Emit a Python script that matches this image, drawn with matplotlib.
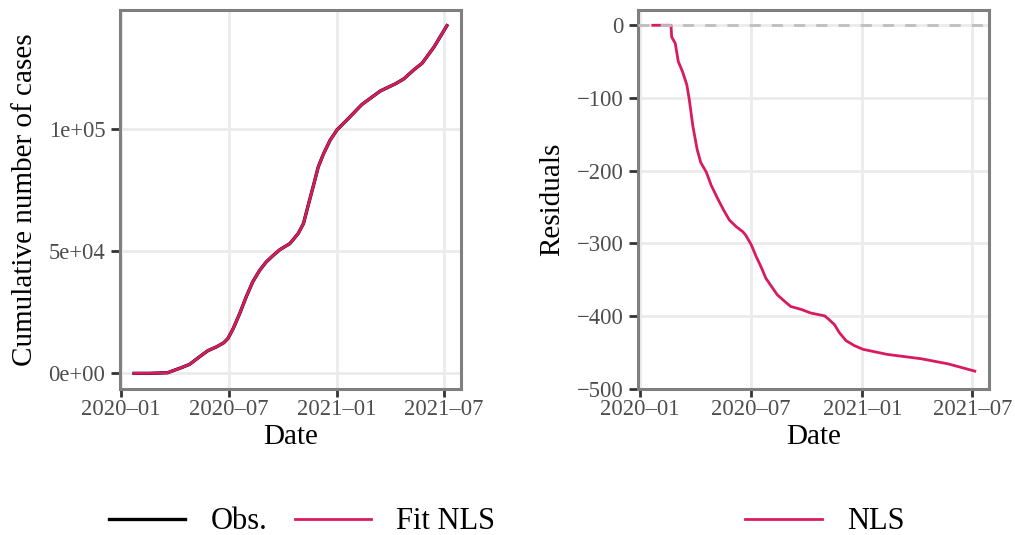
import matplotlib
matplotlib.use("Agg")
import matplotlib.pyplot as plt
import matplotlib.dates as mdates
from matplotlib.ticker import FixedLocator, FuncFormatter
import pandas as pd

# ---------------- data ----------------
obs_dates = ["2020-01-23", "2020-02-18", "2020-03-20", "2020-03-29", "2020-04-12",
             "2020-04-26", "2020-05-13", "2020-05-27", "2020-06-11", "2020-06-23",
             "2020-06-30", "2020-07-09", "2020-07-20", "2020-07-31", "2020-08-11",
             "2020-08-23", "2020-09-03", "2020-09-15", "2020-09-26", "2020-10-13",
             "2020-10-27", "2020-11-05", "2020-11-13", "2020-11-22", "2020-11-30",
             "2020-12-09", "2020-12-20", "2021-01-01", "2021-01-17", "2021-02-12",
             "2021-03-15", "2021-04-10", "2021-04-24", "2021-05-11", "2021-05-25",
             "2021-06-14", "2021-07-06"]
obs_values = [0, 0, 270, 1090, 2320,
              3680, 6820, 9280, 10900, 12550,
              14300, 18400, 24550, 31370, 37500,
              42300, 45700, 48400, 50700, 53200,
              57300, 61400, 68900, 77100, 84600,
              90000, 95500, 99850, 103700, 110200,
              115700, 118700, 120700, 124400, 127100,
              133700, 142500]
fit_values = [0, 0, 270, 1090, 2320,
              3680, 6820, 9280, 10900, 12550,
              14300, 18400, 24550, 31370, 37500,
              42300, 45700, 48400, 50700, 53200,
              57300, 61400, 68900, 77100, 84600,
              90000, 95500, 99850, 103700, 110200,
              115700, 118700, 120700, 124400, 127100,
              133700, 142500]

resid_dates = ["2020-01-22", "2020-02-21", "2020-02-22", "2020-02-28", "2020-03-04",
               "2020-03-11", "2020-03-18", "2020-03-22", "2020-03-28", "2020-04-04",
               "2020-04-10", "2020-04-19", "2020-04-27", "2020-05-08", "2020-05-18",
               "2020-05-27", "2020-06-07", "2020-06-18", "2020-06-23", "2020-07-02",
               "2020-07-10", "2020-07-19", "2020-07-26", "2020-08-04", "2020-08-14",
               "2020-08-26", "2020-09-05", "2020-09-22", "2020-10-08", "2020-10-31",
               "2020-11-07", "2020-11-16", "2020-11-24", "2020-12-05", "2020-12-19",
               "2021-01-02", "2021-02-11", "2021-04-08", "2021-05-22", "2021-07-05"]
resid_values = [0, 0, -16, -25, -50,
                -64, -82, -102, -139, -171,
                -189, -202, -220, -239, -255,
                -268, -277, -284, -289, -302,
                -318, -334, -348, -359, -371,
                -380, -387, -391, -396, -400,
                -405, -412, -423, -434, -441,
                -446, -453, -459, -466, -476]

left_yticks = [0, 50000, 100000]
left_yticklabels = ["0e+00", "5e+04", "1e+05"]
right_yticks = [0, -100, -200, -300, -400, -500]

# ---------------- style ----------------
PINK = "#D81B60"
GRID = "#EBEBEB"
BORDER = "#7F7F7F"
TICKTXT = "#4D4D4D"
FONT = ["Liberation Serif", "DejaVu Serif"]
plt.rcParams["font.family"] = FONT

fig = plt.figure(figsize=(10.15, 5.35), dpi=100)
ax1 = fig.add_axes([120 / 1015, 146 / 535, 341 / 1015, 379 / 535])
ax2 = fig.add_axes([638.3 / 1015, 146 / 535, 351 / 1015, 379 / 535])

od = pd.to_datetime(obs_dates)
rd = pd.to_datetime(resid_dates)

l_obs, = ax1.plot(od, obs_values, color="black", lw=2.4, label="Obs.", zorder=3)
l_fit, = ax1.plot(od, fit_values, color=PINK, lw=2.0, label="Fit NLS", zorder=4)

l_nls, = ax2.plot(rd, resid_values, color=PINK, lw=2.0, label="NLS", zorder=3)
ax2.axhline(0, color="#BEBEBE", lw=2.0, linestyle=(0, (4, 4)), zorder=4)

def dfmt(x, pos=None):
    d = mdates.num2date(x)
    return f"{d.year}\u2013{d.month:02d}"

for ax in (ax1, ax2):
    ax.margins(x=0.045, y=0.045)
    ax.xaxis.set_major_locator(mdates.MonthLocator(bymonth=[1, 7]))
    ax.xaxis.set_major_formatter(FuncFormatter(dfmt))
    ax.grid(True, color=GRID, lw=2.0, zorder=0)
    ax.set_axisbelow(True)
    for s in ax.spines.values():
        s.set_color(BORDER)
        s.set_linewidth(2.2)
    ax.tick_params(axis="both", colors="#333333", width=2.0, labelcolor=TICKTXT,
                   labelsize=16.3)
    ax.tick_params(axis="x", length=5.5, pad=1.5)
    ax.tick_params(axis="y", length=6.5, pad=4)
    ax.set_xlabel("Date", fontsize=21)
    ax.xaxis.set_label_coords(0.5, -0.093)

ax1.yaxis.set_major_locator(FixedLocator(left_yticks))
ax1.set_yticklabels(left_yticklabels)
ax1.set_ylabel("Cumulative number of cases", fontsize=21)
ax1.yaxis.set_label_coords(-0.24, 0.5)

ax2.set_ylim(-500.6, 21)
ax2.yaxis.set_major_locator(FixedLocator(right_yticks))
ax2.yaxis.set_major_formatter(FuncFormatter(lambda v, p: f"{int(v)}".replace("-", "\u2212")))
ax2.set_ylabel("Residuals", fontsize=21)
ax2.yaxis.set_label_coords(-0.208, 0.5)

leg_kw = dict(loc="center", frameon=False, fontsize=22, handlelength=2.5,
              handletextpad=0.83, columnspacing=0.9, borderpad=0, borderaxespad=0)
fig.legend(handles=[l_obs, l_fit], ncol=2, bbox_to_anchor=(302 / 1015, 1 - 521.7 / 535),
           **leg_kw)
fig.legend(handles=[l_nls], ncol=1, bbox_to_anchor=(825 / 1015, 1 - 521.7 / 535),
           **leg_kw)

fig.savefig("out.png", dpi=100)
